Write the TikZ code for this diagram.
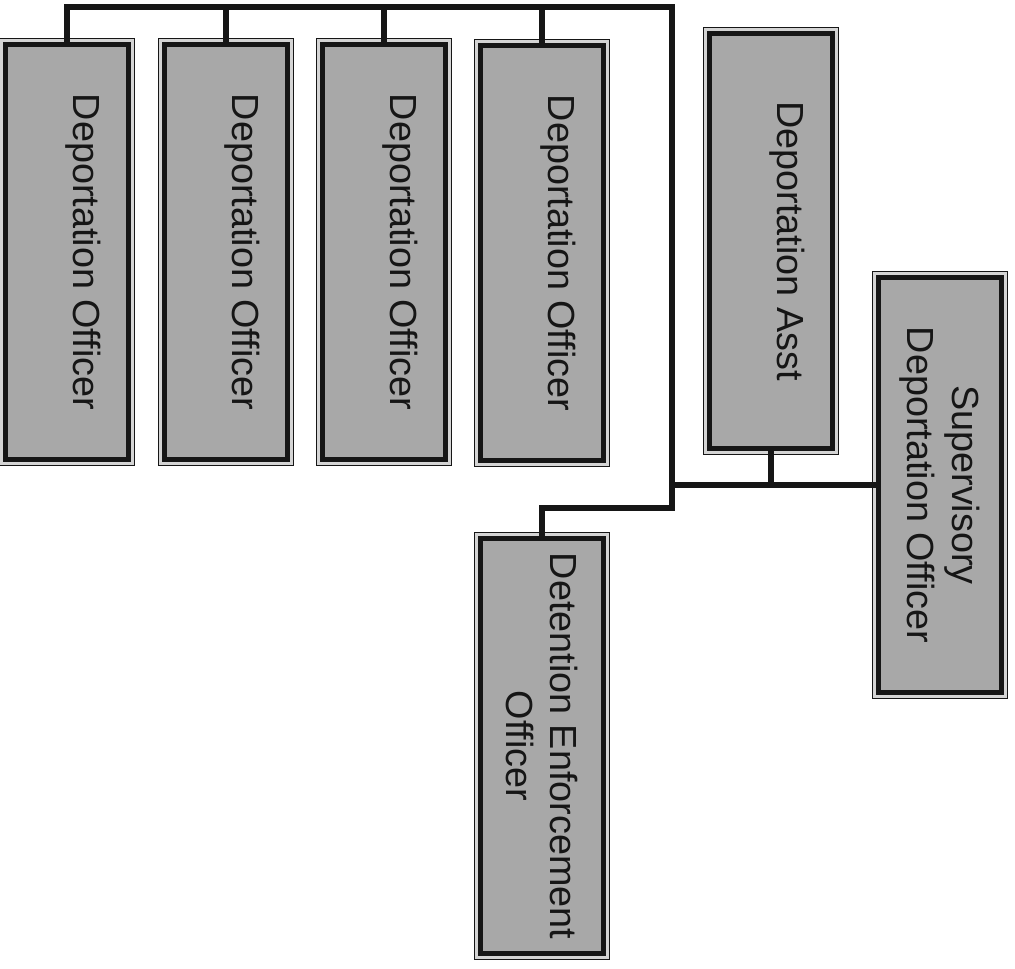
\documentclass[tikz,border=0pt]{standalone}
\usepackage{fontspec}
\setmainfont{Liberation Sans}
\usetikzlibrary{positioning}
\definecolor{ddoFill}{RGB}{168,168,168}
\definecolor{ddoGap}{RGB}{212,212,212}
\definecolor{ddoInk}{RGB}{22,22,22}

\begin{document}
\begin{tikzpicture}[x=0.02cm, y=0.02cm,
    post/.style={rotate=-90, minimum width=8.3cm, minimum height=2.46cm, inner sep=0pt,
      align=center, fill=ddoFill, draw=ddoInk, line width=2.8pt, text=ddoInk,
      font=\fontsize{21.5}{25.5}\selectfont,
      preaction={draw=ddoInk, line width=7.9pt},
      preaction={draw=ddoGap, line width=6.2pt}},
    oneline/.style={text height=15.5pt, text depth=22.7pt},
    link/.style={draw=ddoInk, line width=3.2pt, line join=miter}]
  \useasboundingbox (0,0) rectangle (1015,-968);

  \node[post, oneline] (do1) at (67,-252) {Deportation Officer};
  \node[post, oneline] (do2) at (226,-252) {Deportation Officer};
  \node[post, oneline] (do3) at (384,-252) {Deportation Officer};
  \node[post, oneline] (do4) at (542,-253) {Deportation Officer};
  \node[post, oneline] (asst) at (771,-241) {Deportation Asst};
  \node[post] (sup) at (940,-485) {Supervisory\\Deportation Officer};
  \node[post] (det) at (542,-746) {Detention Enforcement\\Officer};

  \coordinate (topR) at (672,-7);
  \coordinate (midR) at (672,-508);
  \coordinate (supJ) at (672,-485);

  \draw[link] (do1.west) |- (topR) -- (midR) -| (det.west);
  \foreach \n in {do2,do3,do4}
    \draw[link] (\n.west) -- (\n.west |- topR);
  \draw[link] (supJ) -- (sup.south);
  \draw[link] (asst.east) -- (asst.east |- supJ);
\end{tikzpicture}
\end{document}
